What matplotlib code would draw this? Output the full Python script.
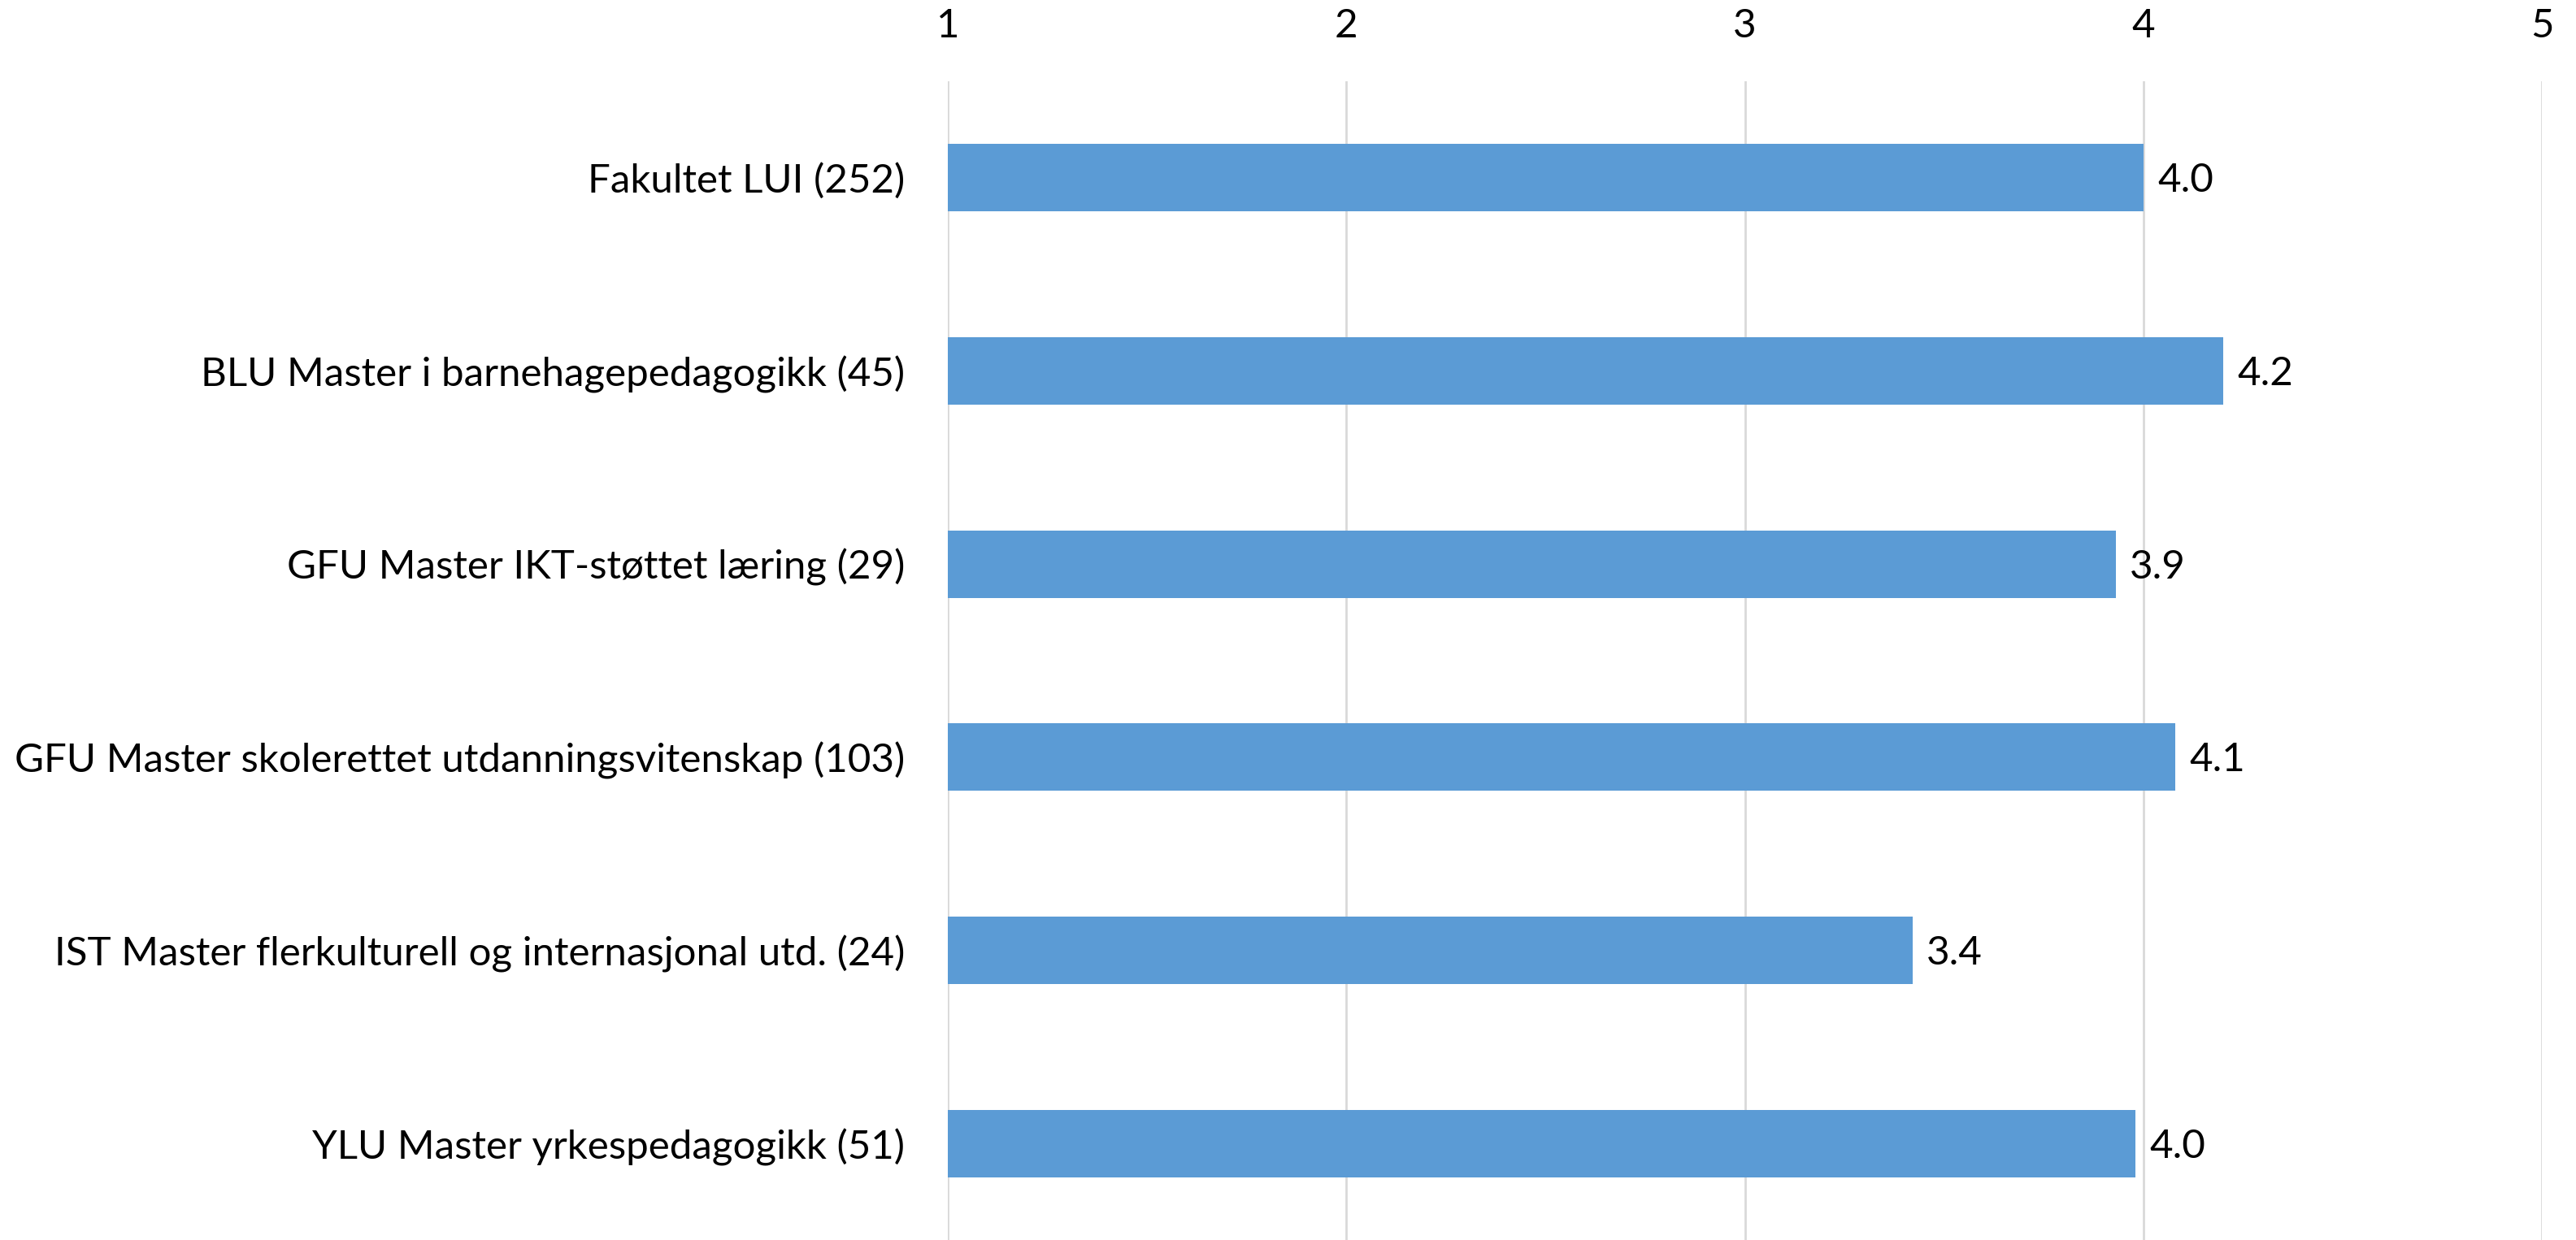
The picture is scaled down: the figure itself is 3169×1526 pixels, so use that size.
import matplotlib.pyplot as plt

# Data
programmes = [
    "Fakultet LUI (252)",
    "BLU Master i barnehagepedagogikk (45)",
    "GFU Master IKT-støttet læring (29)",
    "GFU Master skolerettet utdanningsvitenskap (103)",
    "IST Master flerkulturell og internasjonal utd. (24)",
    "YLU Master yrkespedagogikk (51)",
]
scores = [4.00, 4.20, 3.93, 4.08, 3.42, 3.98]
ticks = [1, 2, 3, 4, 5]

plt.rcParams['font.family'] = ['Lato', 'DejaVu Sans']

fig = plt.figure(figsize=(31.69, 15.26), dpi=100)
ax = fig.add_axes([0.368, 0.0, 0.6188, 0.9345])

ypos = list(range(len(programmes)))
ax.barh(ypos, [s - 1 for s in scores], left=1, height=0.35,
        color='#5B9BD5', zorder=3)

# value labels to the right of each bar
for y, s in zip(ypos, scores):
    ax.text(s + 0.035, y + 0.015, f"{s:.1f}", va='center', ha='left',
            fontsize=35.5, color='black')

ax.set_xlim(1, 5)
ax.set_ylim(len(programmes) - 0.5, -0.5)
ax.set_xticks(ticks)
ax.set_xticklabels([str(t) for t in ticks])
ax.xaxis.tick_top()
ax.set_yticks(ypos)
ax.set_yticklabels(programmes)
ax.tick_params(axis='x', length=0, pad=33, labelsize=35.5)
ax.tick_params(axis='y', length=0, pad=38, labelsize=35.5)

ax.grid(axis='x', color='#D9D9D9', linewidth=2, zorder=0)
for sp in ax.spines.values():
    sp.set_visible(False)

fig.savefig("out.png", dpi=100)
